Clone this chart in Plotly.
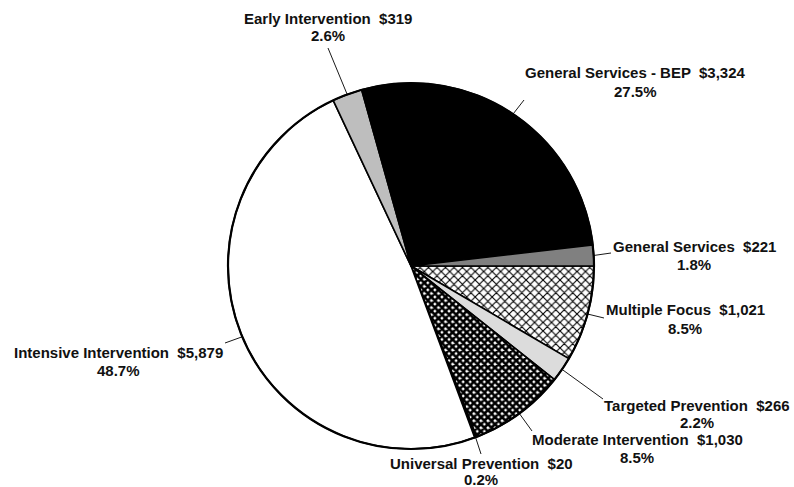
import math
import plotly.graph_objects as go

# Spending by program category (dollars), clockwise from 3 o'clock
categories = [
    "Multiple Focus",
    "Targeted Prevention",
    "Moderate Intervention",
    "Universal Prevention",
    "Intensive Intervention",
    "Early Intervention",
    "General Services - BEP",
    "General Services",
]
amounts = [1021, 266, 1030, 20, 5879, 319, 3324, 221]
percent_labels = ["8.5%", "2.2%", "8.5%", "0.2%", "48.7%", "2.6%", "27.5%", "1.8%"]
amount_labels = ["$1,021", "$266", "$1,030", "$20", "$5,879", "$319", "$3,324", "$221"]

# Slice fills
fills = ["white", "#dcdcdc", "black", "black", "white", "#bebebe", "black", "#808080"]
pattern_shapes = ["x", "", "x", "", "", "", "", ""]
pattern_sizes = [6, 8, 5, 8, 8, 8, 8, 8]
pattern_solidity = [0.34, 0.3, 0.78, 0.3, 0.3, 0.3, 0.3, 0.3]
pattern_bg = ["white", "#dcdcdc", "white", "black", "white", "#bebebe", "black", "#808080"]

# Page geometry (pixels)
W, H = 794, 487
CX, CY, R = 411, 266, 183

# Label centre x, first-line y, second-line y (pixels from top-left)
label_pos = {
    "Multiple Focus": (685, 309, 328),
    "Targeted Prevention": (697, 405, 422),
    "Moderate Intervention": (637, 439, 457),
    "Universal Prevention": (481, 463, 479),
    "Intensive Intervention": (118, 352, 370),
    "Early Intervention": (328, 18, 35),
    "General Services - BEP": (635, 72, 91),
    "General Services": (694, 246, 264),
}
leader_end = {
    "Multiple Focus": (604, 318),
    "Targeted Prevention": (603, 399),
    "Moderate Intervention": (532, 431),
    "Universal Prevention": (481, 454),
    "Intensive Intervention": (225, 343),
    "Early Intervention": (328, 48),
    "General Services - BEP": (524, 100),
    "General Services": (611, 253),
}

total = sum(amounts)

fig = go.Figure()

fig.add_trace(go.Pie(
    labels=categories,
    values=amounts,
    sort=False,
    direction="clockwise",
    rotation=90,
    textinfo="none",
    hoverinfo="skip",
    showlegend=False,
    domain=dict(x=[(CX - R) / W, (CX + R) / W],
                y=[(H - CY - R) / H, (H - CY + R) / H]),
    marker=dict(
        colors=fills,
        line=dict(color="black", width=1.6),
        pattern=dict(
            shape=pattern_shapes,
            size=pattern_sizes,
            solidity=pattern_solidity,
            fgcolor=["black"] * len(categories),
            bgcolor=pattern_bg,
            fillmode="replace",
        ),
    ),
))

# Leader lines from each slice's rim midpoint out to its label
lx, ly = [], []
cum = 0.0
for name, val in zip(categories, amounts):
    mid = (cum + val / 2) / total
    cum += val
    theta = 2 * math.pi * mid
    rx = CX + R * math.cos(theta)
    ry = CY + R * math.sin(theta)
    ex, ey = leader_end[name]
    lx += [rx, ex, None]
    ly += [ry, ey, None]

fig.add_trace(go.Scatter(
    x=lx, y=ly, mode="lines",
    line=dict(color="#1a1a1a", width=1),
    hoverinfo="skip", showlegend=False,
))

label_font = dict(family="Liberation Sans, Arial, sans-serif", size=15, color="#111111")
for name, amt, pct in zip(categories, amount_labels, percent_labels):
    x, y1, y2 = label_pos[name]
    for txt, y in ((f"<b>{name}  {amt}</b>", y1), (f"<b>{pct}</b>", y2)):
        fig.add_annotation(
            x=x, y=y, xref="x", yref="y",
            text=txt, showarrow=False,
            xanchor="center", yanchor="middle",
            font=label_font,
        )

# Outer rim drawn slightly heavier
fig.add_shape(
    type="circle", xref="x", yref="y",
    x0=CX - R, x1=CX + R, y0=CY - R, y1=CY + R,
    line=dict(color="black", width=2.2), layer="above",
)

fig.update_layout(
    width=W, height=H, autosize=False,
    margin=dict(l=0, r=0, t=0, b=0),
    paper_bgcolor="white", plot_bgcolor="rgba(0,0,0,0)",
    xaxis=dict(range=[0, W], visible=False, fixedrange=True),
    yaxis=dict(range=[H, 0], visible=False, fixedrange=True),
)

fig.write_html("out.html")
